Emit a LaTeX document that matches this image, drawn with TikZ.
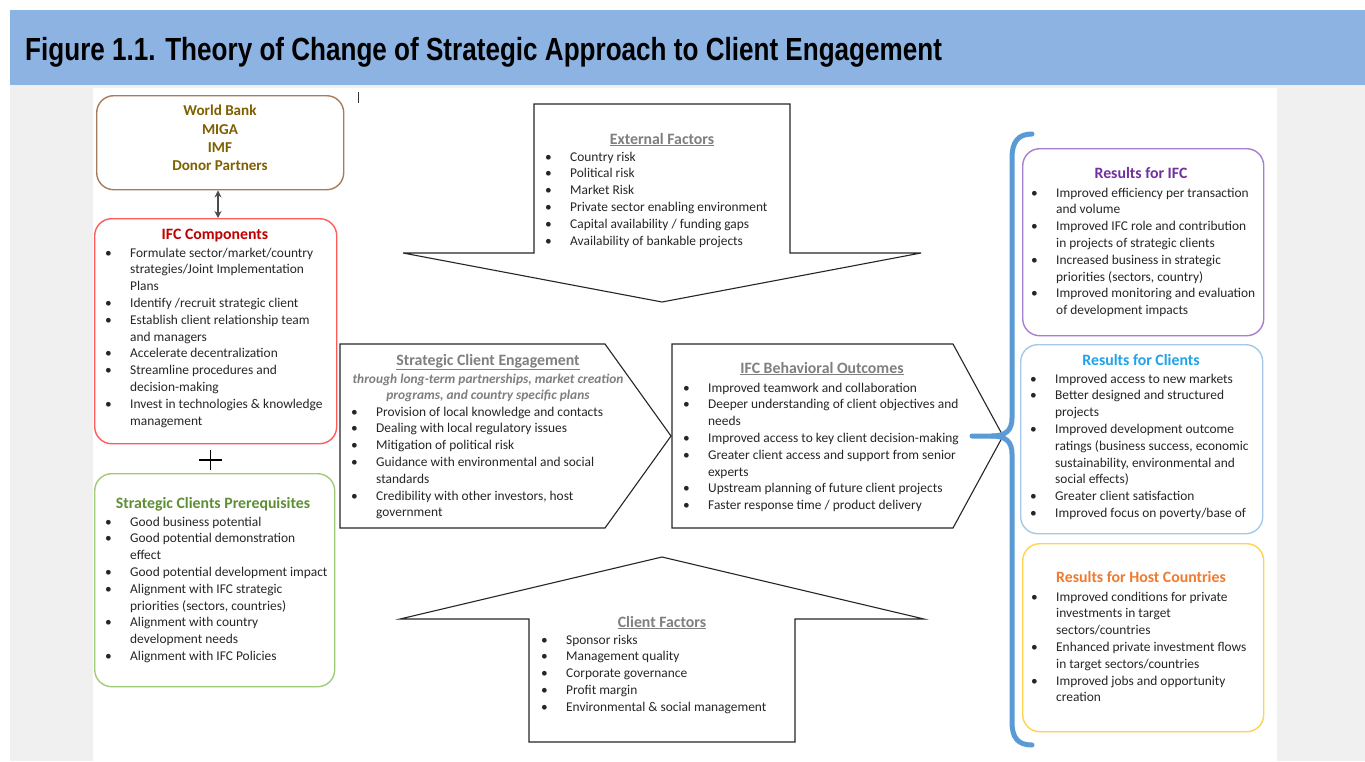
\documentclass[tikz,border=0pt]{standalone}
\usepackage{fontspec}
\setmainfont{Carlito}
\newfontfamily\headfont{Liberation Sans}
\usetikzlibrary{arrows.meta,shapes,positioning}

\definecolor{bandblue}{HTML}{8DB3E2}
\definecolor{panelgray}{HTML}{F0F0F0}
\definecolor{textgray}{HTML}{262626}
\definecolor{headgray}{HTML}{7F7F7F}
\definecolor{partnerline}{HTML}{A67C5B}
\definecolor{partnertext}{HTML}{7F6000}
\definecolor{compline}{HTML}{FF5B5B}
\definecolor{comptext}{HTML}{C00000}
\definecolor{prereqline}{HTML}{9FCB7A}
\definecolor{prereqtext}{HTML}{5E8E35}
\definecolor{ifcline}{HTML}{A67FCF}
\definecolor{ifctext}{HTML}{7030A0}
\definecolor{clientline}{HTML}{A5C8EA}
\definecolor{clienttext}{HTML}{1FA2EA}
\definecolor{hostline}{HTML}{FFD250}
\definecolor{hosttext}{HTML}{F07A2E}
\definecolor{bracebl}{HTML}{5B9BD5}

% bullet rows: \bl starts an item, \cl continues it
\newcommand{\bl}[1]{\textbullet&#1\\}
\newcommand{\cl}[1]{&#1\\}
\newcommand{\blist}[1]{\begin{tabular}[t]{@{}p{25pt}@{}l@{}}#1\end{tabular}}

\begin{document}
\begin{tikzpicture}[x=1pt,y=-1pt,
    rbox/.style={draw=#1,line width=1.4pt,rounded corners=17pt,anchor=north west,inner sep=0pt,fill=white},
    head/.style={font=\fontsize{15.8}{18}\selectfont\bfseries,anchor=base,inner sep=0pt},
    sub/.style={font=\fontsize{13.4}{16.8}\selectfont\bfseries\itshape,text=headgray,anchor=base,inner sep=0pt},
    list/.style={font=\fontsize{13.4}{16.8}\selectfont,text=textgray,anchor=base west,inner sep=0pt},
    flow/.style={draw=black!85,line width=1.1pt,fill=white}]
  \useasboundingbox (0,0) rectangle (1365,761);
  \fill[white] (0,0) rectangle (1365,761);
  \fill[panelgray] (10,85) rectangle (1365,761);
  \fill[white] (93,88) rectangle (1277,761);
  \fill[bandblue] (10,10) rectangle (1365,85);
  \node[anchor=base west,inner sep=0pt] (title) at (25,60)
    {\scalebox{0.815}[1]{\headfont\fontsize{32}{34}\selectfont\bfseries Figure 1.1. Theory of Change of Strategic Approach to Client Engagement}};
  \draw[black!80,line width=0.8pt] (358,92) -- (358,103);

  % left column
  \node[rbox=partnerline,minimum width=247,minimum height=94] (partners) at (96,95) {};
  \node[font=\fontsize{15.1}{18.3}\selectfont\bfseries,text=partnertext,align=center,inner sep=0pt] (partnersl) at (220,138)
    {World Bank\\MIGA\\IMF\\Donor Partners};
  \node[rbox=compline,minimum width=242,minimum height=225] (comp) at (94,218) {};
  \node[head,text=comptext] (comph) at (215,239) {IFC Components};
  \node[list] (compl) at (105,257) {\blist{%
    \bl{Formulate sector/market/country}
    \cl{strategies/Joint Implementation}
    \cl{Plans}
    \bl{Identify /recruit strategic client}
    \bl{Establish client relationship team}
    \cl{and managers}
    \bl{Accelerate decentralization}
    \bl{Streamline procedures and}
    \cl{decision-making}
    \bl{Invest in technologies \& knowledge}
    \cl{management}}};
  \draw[{Stealth[length=7pt,width=7pt]}-{Stealth[length=7pt,width=7pt]},black!70,line width=1.3pt]
    (partners.south -| 218,0) -- (comp.north -| 218,0);
  \draw[black,line width=1.4pt] (199,460) -- (222,460) (210.5,450) -- (210.5,470);
  \node[rbox=prereqline,minimum width=240,minimum height=213] (prereq) at (94,473) {};
  \node[head,text=prereqtext] (prereqh) at (213,508) {Strategic Clients Prerequisites};
  \node[list] (prereql) at (105,526) {\blist{%
    \bl{Good business potential}
    \bl{Good potential demonstration}
    \cl{effect}
    \bl{Good potential development impact}
    \bl{Alignment with IFC strategic}
    \cl{priorities (sectors, countries)}
    \bl{Alignment with country}
    \cl{development needs}
    \bl{Alignment with IFC Policies}}};

  % external and client factors
  \draw[flow] (534,104) -- (790,104) -- (790,253) -- (921,253) -- (662,302)
    -- (403,253) -- (534,253) -- cycle;
  \node[head,text=headgray] (exth) at (662,144) {\underline{External Factors}};
  \node[list] (extl) at (545,161) {\blist{%
    \bl{Country risk}
    \bl{Political risk}
    \bl{Market Risk}
    \bl{Private sector enabling environment}
    \bl{Capital availability / funding gaps}
    \bl{Availability of bankable projects}}};
  \draw[flow] (529,742) -- (795,742) -- (795,619) -- (924,619) -- (662,557)
    -- (400,619) -- (529,619) -- cycle;
  \node[head,text=headgray] (clih) at (662,627) {\underline{Client Factors}};
  \node[list] (clil) at (541,644) {\blist{%
    \bl{Sponsor risks}
    \bl{Management quality}
    \bl{Corporate governance}
    \bl{Profit margin}
    \bl{Environmental \& social management}}};

  % middle row
  \draw[flow] (340,344) -- (605,344) -- (671,436) -- (605,528) -- (340,528) -- cycle;
  \node[head,text=headgray] (strath) at (488,365) {\underline{Strategic Client Engagement}};
  \node[sub] (strats1) at (488,383) {through long-term partnerships, market creation};
  \node[sub] (strats2) at (488,399) {programs, and country specific plans};
  \node[list] (stratl) at (351,416) {\blist{%
    \bl{Provision of local knowledge and contacts}
    \bl{Dealing with local regulatory issues}
    \bl{Mitigation of political risk}
    \bl{Guidance with environmental and social}
    \cl{standards}
    \bl{Credibility with other investors, host}
    \cl{government}}};
  \draw[flow] (672,344) -- (953,344) -- (1003,436) -- (953,528) -- (672,528) -- cycle;
  \node[head,text=headgray] (behh) at (822,373) {\underline{IFC Behavioral Outcomes}};
  \node[list] (behl) at (683,392) {\blist{%
    \bl{Improved teamwork and collaboration}
    \bl{Deeper understanding of client objectives and}
    \cl{needs}
    \bl{Improved access to key client decision-making}
    \bl{Greater client access and support from senior}
    \cl{experts}
    \bl{Upstream planning of future client projects}
    \bl{Faster response time / product delivery}}};

  % brace and results
  \draw[bracebl,line width=5pt,line cap=round]
    (1032,134) .. controls (1018,134) and (1012,142) .. (1012,158) -- (1012,418)
    .. controls (1012,430) and (1006,436) .. (992,436) -- (972,436);
  \draw[bracebl,line width=5pt,line cap=round]
    (992,436) .. controls (1006,436) and (1012,442) .. (1012,454) -- (1012,722)
    .. controls (1012,738) and (1018,745) .. (1032,745);
  \node[rbox=ifcline,minimum width=241,minimum height=187] (rifc) at (1022,148) {};
  \node[head,text=ifctext] (rifch) at (1141,178) {Results for IFC};
  \node[list] (rifcl) at (1031,197) {\blist{%
    \bl{Improved efficiency per transaction}
    \cl{and volume}
    \bl{Improved IFC role and contribution}
    \cl{in projects of strategic clients}
    \bl{Increased business in strategic}
    \cl{priorities (sectors, country)}
    \bl{Improved monitoring and evaluation}
    \cl{of development impacts}}};
  \node[rbox=clientline,minimum width=242,minimum height=189] (rcli) at (1020,344) {};
  \node[head,text=clienttext] (rclih) at (1141,365) {Results for Clients};
  \node[list] (rclil) at (1030,383) {\blist{%
    \bl{Improved access to new markets}
    \bl{Better designed and structured}
    \cl{projects}
    \bl{Improved development outcome}
    \cl{ratings (business success, economic}
    \cl{sustainability, environmental and}
    \cl{social effects)}
    \bl{Greater client satisfaction}
    \bl{Improved focus on poverty/base of}}};
  \node[rbox=hostline,minimum width=241,minimum height=188] (rhost) at (1022,543) {};
  \node[head,text=hosttext] (rhosth) at (1141,582) {Results for Host Countries};
  \node[list] (rhostl) at (1031,601) {\blist{%
    \bl{Improved conditions for private}
    \cl{investments in target}
    \cl{sectors/countries}
    \bl{Enhanced private investment flows}
    \cl{in target sectors/countries}
    \bl{Improved jobs and opportunity}
    \cl{creation}}};
\end{tikzpicture}
\end{document}
